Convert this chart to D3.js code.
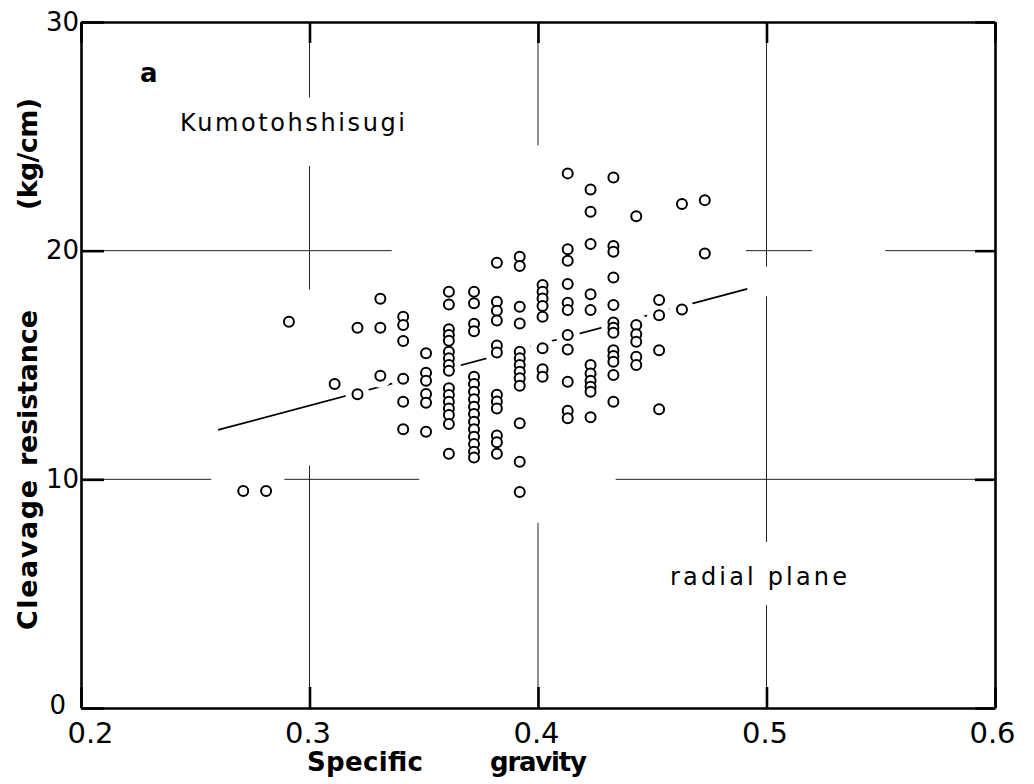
<!DOCTYPE html>
<html><head><meta charset="utf-8">
<script src="https://cdn.jsdelivr.net/npm/d3@7"></script>
<style>body{margin:0;background:#fff} svg{display:block}</style>
</head><body>
<svg id="chart" width="1034" height="784"></svg>
<script>
// ---- data ----
const xTicks = [0.2, 0.3, 0.4, 0.5, 0.6];
const yTicks = [0, 10, 20, 30];
const xTickLabels = ["0.2", "0.3", "0.4", "0.5", "0.6"];
const yTickLabels = ["0", "10", "20", "30"];

// specific gravity of each column of points
const gravity = [0.271, 0.281, 0.291, 0.311, 0.321, 0.331, 0.341, 0.351, 0.361, 0.372,
                 0.382, 0.392, 0.402, 0.413, 0.423, 0.433, 0.443, 0.453, 0.463, 0.473];
// cleavage resistance (kg/cm) of the points in each column
const resistance = [
  [9.49],
  [9.49],
  [16.89],
  [14.17],
  [16.63, 13.72],
  [17.9, 16.63, 14.53],
  [17.11, 16.75, 16.05, 14.4, 13.39, 12.19],
  [15.51, 14.66, 14.31, 13.73, 13.35, 12.08],
  [18.2, 17.65, 16.56, 16.31, 16.06, 15.58, 15.29, 15.0, 14.75, 13.98, 13.69, 13.39, 13.1, 12.81, 12.42, 11.12],
  [18.2, 17.7, 16.8, 16.48, 14.49, 14.17, 13.83, 13.5, 13.17, 12.86, 12.52, 12.19, 11.86, 11.54, 11.21, 10.95],
  [19.47, 17.77, 17.37, 16.95, 15.85, 15.55, 13.7, 13.4, 13.1, 11.92, 11.62, 11.12],
  [19.73, 19.33, 17.55, 16.82, 15.58, 15.29, 15.0, 14.7, 14.42, 14.09, 12.45, 10.77, 9.45],
  [18.5, 18.2, 17.91, 17.58, 17.11, 15.73, 14.81, 14.49],
  [23.38, 20.06, 19.56, 18.54, 17.72, 17.4, 16.31, 15.68, 14.27, 13.0, 12.67],
  [22.68, 21.7, 20.29, 18.09, 17.4, 15.0, 14.63, 14.31, 14.05, 13.83, 12.71],
  [23.2, 20.2, 19.95, 18.83, 17.62, 16.86, 16.63, 16.41, 15.65, 15.39, 15.14, 14.56, 13.39],
  [21.51, 16.75, 16.35, 16.02, 15.36, 15.0],
  [17.84, 17.18, 15.65, 13.06],
  [22.04, 17.43],
  [22.21, 19.88]
];
// regression line end points [gravity, resistance]
const fitStart = [0.260, 12.16];
const fitEnd = [0.4916, 18.33];

// broken grid lines: visible stretches in data units
const gridVertical = [
  {at: 0.3, spans: [[30, 26.7], [23.7, 18.3], [10.6, 0]]},
  {at: 0.4, spans: [[30, 24.6], [8.1, 0]]},
  {at: 0.5, spans: [[30, 19.3], [18.0, 7.26], [4.5, 0]]}
];
const gridHorizontal = [
  {at: 20, spans: [[0.2, 0.336], [0.491, 0.520], [0.552, 0.6]]},
  {at: 10, spans: [[0.2, 0.257], [0.289, 0.348], [0.434, 0.6]]}
];

// ---- drawing ----
const svg = d3.select("#chart");
const x = d3.scaleLinear().domain([0.2, 0.6]).range([81, 995]);
const y = d3.scaleLinear().domain([0, 30]).range([708, 22]);

const points = gravity.flatMap((g, i) => resistance[i].map(r => ({g, r})));

// grid
const grid = svg.append("g").attr("stroke", "#222").attr("stroke-width", 1);
gridVertical.forEach(v => v.spans.forEach(s => {
  grid.append("line").attr("x1", x(v.at)).attr("x2", x(v.at))
    .attr("y1", y(s[0])).attr("y2", y(s[1]));
}));
gridHorizontal.forEach(h => h.spans.forEach(s => {
  grid.append("line").attr("y1", y(h.at)).attr("y2", y(h.at))
    .attr("x1", x(s[0])).attr("x2", x(s[1]));
}));

// regression line
svg.append("line")
  .attr("x1", x(fitStart[0])).attr("y1", y(fitStart[1]))
  .attr("x2", x(fitEnd[0])).attr("y2", y(fitEnd[1]))
  .attr("stroke", "#000").attr("stroke-width", 1.8);

// halos that break the line near points
svg.append("g").selectAll("circle").data(points).join("circle")
  .attr("cx", d => x(d.g)).attr("cy", d => y(d.r)).attr("r", 12)
  .attr("fill", "#fff");

// points
svg.append("g").selectAll("circle").data(points).join("circle")
  .attr("cx", d => x(d.g)).attr("cy", d => y(d.r)).attr("r", 5)
  .attr("fill", "#fff").attr("stroke", "#000").attr("stroke-width", 2);

// axes (frame with inward ticks)
function styleAxis(g) {
  g.select(".domain").attr("stroke", "#000").attr("stroke-width", 2.6);
  g.selectAll(".tick line").attr("stroke", "#000").attr("stroke-width", 2.6);
}
const axB = svg.append("g").attr("transform", "translate(0,708)")
  .call(d3.axisBottom(x).tickValues(xTicks).tickSizeInner(-21).tickSizeOuter(0).tickPadding(14)
    .tickFormat((d, i) => xTickLabels[i]));
styleAxis(axB);
axB.selectAll(".tick text").attr("font-family", "DejaVu Sans").attr("font-size", 29).attr("fill", "#000")
  .attr("dx", (d, i) => i === 0 ? 9 : (i === 4 ? -3 : -2));

const axT = svg.append("g").attr("transform", "translate(0,22)")
  .call(d3.axisTop(x).tickValues(xTicks).tickSizeInner(-21).tickSizeOuter(0).tickFormat(""));
styleAxis(axT);

const axL = svg.append("g").attr("transform", "translate(81,0)")
  .call(d3.axisLeft(y).tickValues(yTicks).tickSizeInner(-23).tickSizeOuter(0).tickPadding(2)
    .tickFormat((d, i) => yTickLabels[i]));
styleAxis(axL);
axL.selectAll(".tick text").attr("font-family", "DejaVu Sans").attr("font-size", 26).attr("fill", "#000")
  .attr("dx", (d, i) => i === 0 ? -13 : 0).attr("dy", (d, i) => i === 0 ? "0.22em" : "0.32em");

const axR = svg.append("g").attr("transform", "translate(995,0)")
  .call(d3.axisRight(y).tickValues(yTicks).tickSizeInner(-20).tickSizeOuter(0).tickFormat(""));
styleAxis(axR);

// texts
const font = "DejaVu Sans";
svg.append("text").attr("x", 140).attr("y", 82).text("a")
  .attr("font-family", font).attr("font-weight", "bold").attr("font-size", 26);
svg.append("text").attr("x", 180).attr("y", 131).text("Kumotohshisugi")
  .attr("font-family", font).attr("font-size", 24)
  .attr("textLength", 225).attr("lengthAdjust", "spacing");
svg.append("text").attr("x", 670).attr("y", 585).text("radial plane")
  .attr("font-family", font).attr("font-size", 24)
  .attr("textLength", 177).attr("lengthAdjust", "spacing");
svg.append("text").attr("x", 307).attr("y", 771).text("Specific")
  .attr("font-family", font).attr("font-weight", "bold").attr("font-size", 26)
  .attr("textLength", 116).attr("lengthAdjust", "spacing");
svg.append("text").attr("x", 490).attr("y", 771).text("gravity")
  .attr("font-family", font).attr("font-weight", "bold").attr("font-size", 26)
  .attr("textLength", 97).attr("lengthAdjust", "spacing");

const yTitle = [
  {t: "Cleavage", y0: 630, len: 150},
  {t: "resistance", y0: 466, len: 156},
  {t: "(kg/cm)", y0: 210, len: 112}
];
yTitle.forEach(w => {
  svg.append("text").attr("transform", `translate(37,${w.y0}) rotate(-90)`).text(w.t)
    .attr("font-family", font).attr("font-weight", "bold").attr("font-size", 27)
    .attr("textLength", w.len).attr("lengthAdjust", "spacing");
});
</script>
</body></html>
